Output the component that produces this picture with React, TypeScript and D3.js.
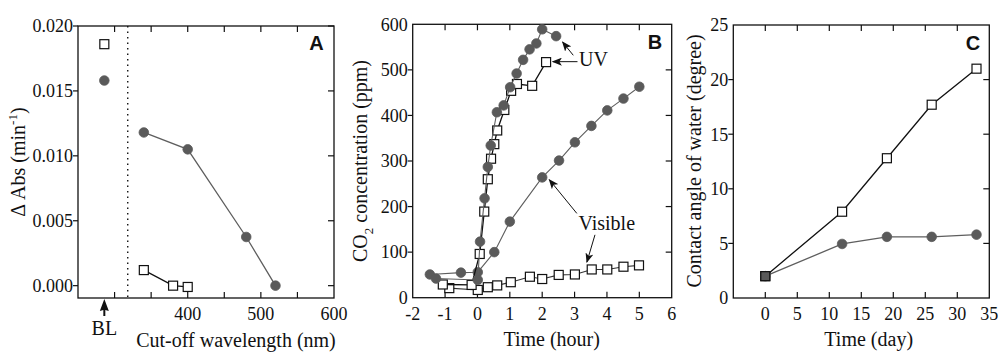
import React from 'react';
import * as d3 from 'd3';

const serif = "'Liberation Serif', 'Times New Roman', 'DejaVu Serif', serif";
const sans = "'Liberation Sans', Arial, sans-serif";

// ---------- Panel A ----------
const aXTicks = [300, 350, 400, 450, 500, 550];
const aXLabels = [400, 500, 600];
const aYTicks = [0, 0.005, 0.01, 0.015, 0.02];
const aBLX = 286;
const aBLCircle = 0.0158;
const aBLSquare = 0.0186;
const aCutoff = 318;
const aCircX = [340, 400, 480, 520];
const aCircY = [0.0118, 0.0105, 0.00375, 0.0];
const aSqX = [340, 380, 400];
const aSqY = [0.0012, 0.0, -0.0001];

// ---------- Panel B ----------
const bXTicks = [-1, 0, 1, 2, 3, 4, 5];
const bXLabels = [-2, -1, 0, 1, 2, 3, 4, 5, 6];
const bYTicks = [100, 200, 300, 400, 500];
const bYLabels = [0, 100, 200, 300, 400, 500, 600];
const uvCircT = [-1.28, 0.01, 0.08, 0.22, 0.32, 0.41, 0.6, 0.81, 1.01, 1.21, 1.41, 1.61, 1.82, 2.0, 2.43];
const uvCircY = [42, 39, 123, 218, 287, 334, 407, 422, 462, 492, 522, 545, 558, 589, 574];
const uvSqT = [-1.07, -0.18, 0.07, 0.21, 0.32, 0.42, 0.52, 0.61, 0.83, 1.04, 1.22, 1.69, 2.12];
const uvSqY = [29, 28, 96, 189, 260, 305, 337, 367, 412, 454, 469, 465, 517];
const visCircT = [-1.47, -0.51, 0.01, 0.52, 1.0, 2.0, 2.52, 3.01, 3.52, 4.01, 4.51, 5.0];
const visCircY = [51, 55, 56, 100, 167, 264, 301, 341, 377, 411, 437, 463];
const visSqT = [-0.87, 0.01, 0.32, 0.61, 1.03, 1.62, 2.0, 2.51, 3.01, 3.53, 4.01, 4.51, 4.99];
const visSqY = [21, 17, 23, 27, 34, 46, 41, 50, 51, 62, 62, 68, 71];

// ---------- Panel C ----------
const cXTicks = [0, 5, 10, 15, 20, 25, 30];
const cXLabels = [0, 5, 10, 15, 20, 25, 30, 35];
const cYTicks = [5, 10, 15, 20];
const cYLabels = [0, 5, 10, 15, 20, 25];
const cDays = [0, 12, 19, 26, 33];
const cSquares = [2.0, 7.9, 12.8, 17.7, 21.0];
const cCircles = [2.0, 4.95, 5.6, 5.6, 5.8];

const CIRC_FILL = '#5a5a5a';
const CIRC_LINE = '#5e5e5e';
const R = 4.8;
const SQ = 9;

const serifStyle = { fontFamily: serif };
const sansStyle = { fontFamily: sans };

type Lin = d3.ScaleLinear<number, number>;

function Axes({ x, y, xTicks, yTicks, xLabels, yLabels, fmtY }: {
  x: Lin; y: Lin; xTicks: number[]; yTicks: number[]; xLabels: number[]; yLabels: number[]; fmtY: (v: number) => string;
}) {
  const [x0, x1] = x.range();
  const [y0, y1] = y.range();
  return (
    <g>
      <rect x={x0} y={y1} width={x1 - x0} height={y0 - y1} fill="none" stroke="#111" strokeWidth={1.3} />
      {xTicks.map((t) => (
        <g key={'xt' + t}>
          <line x1={x(t)} x2={x(t)} y1={y0} y2={y0 - 6} stroke="#111" strokeWidth={1.2} />
          <line x1={x(t)} x2={x(t)} y1={y1} y2={y1 + 6} stroke="#111" strokeWidth={1.2} />
        </g>
      ))}
      {yTicks.map((t) => (
        <g key={'yt' + t}>
          <line x1={x0} x2={x0 - 5} y1={y(t)} y2={y(t)} stroke="#111" strokeWidth={1.2} />
          <line x1={x1} x2={x1 - 6} y1={y(t)} y2={y(t)} stroke="#111" strokeWidth={1.2} />
        </g>
      ))}
      {xLabels.map((t) => (
        <text key={'xl' + t} x={x(t)} y={319.5} textAnchor="middle" style={serifStyle} fontSize={18} fill="#111">
          {t}
        </text>
      ))}
      {yLabels.map((t) => (
        <text key={'yl' + t} x={x0 - 5} y={y(t)} dy="0.35em" textAnchor="end" style={serifStyle} fontSize={18} fill="#111">
          {fmtY(t)}
        </text>
      ))}
    </g>
  );
}

function Series({ x, y, xs, ys, kind, lineColor, lineWidth, connect = true, fills }: {
  x: Lin; y: Lin; xs: number[]; ys: number[]; kind: 'c' | 's'; lineColor: string; lineWidth: number; connect?: boolean; fills?: (string | null)[];
}) {
  const pts: [number, number][] = xs.map((v, i) => [v, ys[i]]);
  const line = d3.line<[number, number]>().x((d) => x(d[0])).y((d) => y(d[1]));
  return (
    <g>
      {connect && <path d={line(pts) || ''} fill="none" stroke={lineColor} strokeWidth={lineWidth} />}
      {pts.map((p, i) =>
        kind === 'c' ? (
          <circle key={i} cx={x(p[0])} cy={y(p[1])} r={R} fill={CIRC_FILL} stroke={CIRC_FILL} strokeWidth={0.8} />
        ) : (
          <rect key={i} x={x(p[0]) - SQ / 2} y={y(p[1]) - SQ / 2} width={SQ} height={SQ}
            fill={(fills && fills[i]) || '#fff'} stroke="#111" strokeWidth={1.2} />
        )
      )}
    </g>
  );
}

export default function App() {
  const ax = d3.scaleLinear().domain([250, 600]).range([78, 334]);
  const ay = d3.scaleLinear().domain([-0.00095, 0.02]).range([298, 26]);
  const bx = d3.scaleLinear().domain([-2, 6]).range([412.7, 671.7]);
  const by = d3.scaleLinear().domain([0, 600]).range([297.7, 24.3]);
  const cx = d3.scaleLinear().domain([-5, 35]).range([733.3, 989.3]);
  const cy = d3.scaleLinear().domain([0, 25]).range([298, 25]);

  return (
    <svg width={1000} height={356} style={{ position: 'absolute', left: 0, top: 0, background: '#fff' }}>
      <defs>
        <marker id="arr" viewBox="0 0 10 8" refX={9} refY={4} markerWidth={10} markerHeight={8} markerUnits="userSpaceOnUse" orient="auto">
          <path d="M0,0 L10,4 L0,8 L2.5,4 z" fill="#111" />
        </marker>
      </defs>
      <rect x={0} y={0} width={1000} height={356} fill="#fff" />

      {/* ---------------- Panel A ---------------- */}
      <Axes x={ax} y={ay} xTicks={aXTicks} yTicks={aYTicks} xLabels={aXLabels} yLabels={aYTicks} fmtY={(v) => v.toFixed(3)} />
      <line x1={ax(aCutoff)} x2={ax(aCutoff)} y1={ay.range()[1]} y2={ay.range()[0]} stroke="#111" strokeWidth={1.4} strokeDasharray="1.5,4" />
      <Series x={ax} y={ay} xs={aCircX} ys={aCircY} kind="c" lineColor={CIRC_LINE} lineWidth={1.3} />
      <Series x={ax} y={ay} xs={aSqX} ys={aSqY} kind="s" lineColor="#111" lineWidth={1.3} />
      <Series x={ax} y={ay} xs={[aBLX]} ys={[aBLSquare]} kind="s" lineColor="#111" lineWidth={1} connect={false} />
      <Series x={ax} y={ay} xs={[aBLX]} ys={[aBLCircle]} kind="c" lineColor="#111" lineWidth={1} connect={false} />
      <path d={`M${ax(aBLX)},299 L${ax(aBLX) + 4.5},311 L${ax(aBLX) + 1},310 L${ax(aBLX) + 1},316 L${ax(aBLX) - 1},316 L${ax(aBLX) - 1},310 L${ax(aBLX) - 4.5},311 Z`} fill="#111" />
      <text x={ax(aBLX)} y={335} textAnchor="middle" style={serifStyle} fontSize={20} fill="#111">BL</text>
      <text x={236} y={346.5} textAnchor="middle" style={serifStyle} fontSize={20} fill="#111">Cut-off wavelength (nm)</text>
      <text transform="translate(25,162) rotate(-90)" textAnchor="middle" style={serifStyle} fontSize={20} fill="#111">
        Δ Abs (min<tspan dy="-8" fontSize={13}>-1</tspan><tspan dy="8">)</tspan>
      </text>
      <text x={316.5} y={50} textAnchor="middle" style={sansStyle} fontWeight="bold" fontSize={20} fill="#111">A</text>

      {/* ---------------- Panel B ---------------- */}
      <Axes x={bx} y={by} xTicks={bXTicks} yTicks={bYTicks} xLabels={bXLabels} yLabels={bYLabels} fmtY={(v) => String(v)} />
      <Series x={bx} y={by} xs={visSqT} ys={visSqY} kind="s" lineColor="#333" lineWidth={1.1} />
      <Series x={bx} y={by} xs={visCircT} ys={visCircY} kind="c" lineColor={CIRC_LINE} lineWidth={1.1} />
      <Series x={bx} y={by} xs={uvSqT} ys={uvSqY} kind="s" lineColor="#111" lineWidth={1.3} />
      <Series x={bx} y={by} xs={uvCircT} ys={uvCircY} kind="c" lineColor={CIRC_LINE} lineWidth={1.1} />
      <text x={bx(3.14)} y={by(508)} style={serifStyle} fontSize={20} fill="#111">UV</text>
      <line x1={bx(2.96)} y1={by(532)} x2={bx(2.63)} y2={by(561)} stroke="#111" strokeWidth={1} markerEnd="url(#arr)" />
      <line x1={bx(3.09)} y1={by(518)} x2={bx(2.33)} y2={by(518)} stroke="#111" strokeWidth={1} markerEnd="url(#arr)" />
      <text x={bx(3.12)} y={by(148.6)} style={serifStyle} fontSize={20} fill="#111">Visible</text>
      <line x1={bx(3.07)} y1={by(185)} x2={bx(2.22)} y2={by(259)} stroke="#111" strokeWidth={1} markerEnd="url(#arr)" />
      <line x1={bx(3.63)} y1={by(138)} x2={bx(3.38)} y2={by(78)} stroke="#111" strokeWidth={1} markerEnd="url(#arr)" />
      <text x={551.7} y={346} textAnchor="middle" style={serifStyle} fontSize={20} fill="#111">Time (hour)</text>
      <text transform="translate(367,161) rotate(-90)" textAnchor="middle" style={serifStyle} fontSize={20} fill="#111">
        CO<tspan dy="6" fontSize={13}>2</tspan><tspan dy="-6"> concentration (ppm)</tspan>
      </text>
      <text x={655} y={49} textAnchor="middle" style={sansStyle} fontWeight="bold" fontSize={20} fill="#111">B</text>

      {/* ---------------- Panel C ---------------- */}
      <Axes x={cx} y={cy} xTicks={cXTicks} yTicks={cYTicks} xLabels={cXLabels} yLabels={cYLabels} fmtY={(v) => String(v)} />
      <Series x={cx} y={cy} xs={cDays} ys={cSquares} kind="s" lineColor="#111" lineWidth={1.3} />
      <Series x={cx} y={cy} xs={cDays} ys={cCircles} kind="c" lineColor={CIRC_LINE} lineWidth={1.3} />
      <Series x={cx} y={cy} xs={[cDays[0]]} ys={[cSquares[0]]} kind="s" lineColor="#111" lineWidth={1} connect={false} fills={[CIRC_FILL]} />
      <text x={868.7} y={346} textAnchor="middle" style={serifStyle} fontSize={20} fill="#111">Time (day)</text>
      <text transform="translate(701,161) rotate(-90)" textAnchor="middle" style={serifStyle} fontSize={20} fill="#111">
        Contact angle of water (degree)
      </text>
      <text x={973} y={50} textAnchor="middle" style={sansStyle} fontWeight="bold" fontSize={20} fill="#111">C</text>
    </svg>
  );
}
